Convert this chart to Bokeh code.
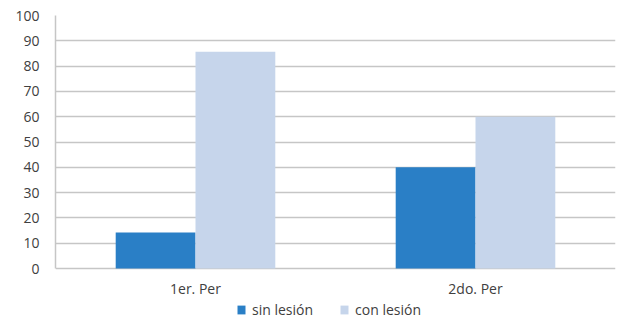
from bokeh.plotting import figure
from bokeh.models import ColumnDataSource, FactorRange, Range1d, Legend, LegendItem, FixedTicker
from bokeh.transform import dodge
from bokeh.embed import file_html
from bokeh.resources import INLINE

categories = ["1er. Per", "2do. Per"]
sin_lesion = [14.3, 40]
con_lesion = [85.7, 60]
series_names = ["sin lesión", "con lesión"]
y_ticks = [0, 10, 20, 30, 40, 50, 60, 70, 80, 90, 100]
colors = ["#2a7fc6", "#c6d5eb"]

src = ColumnDataSource(dict(cat=categories, sin=sin_lesion, con=con_lesion))

# frame extends below zero so the legend can sit inside it
p = figure(x_range=FactorRange(*categories, range_padding=0), y_range=Range1d(-20.1, 100),
           frame_width=560, frame_height=304, output_backend="svg", toolbar_location=None,
           min_border_left=55, min_border_top=15, min_border_right=4, min_border_bottom=0)

bw = 0.285
r1 = p.vbar(x=dodge("cat", -bw / 2, range=p.x_range), top="sin", width=bw, source=src,
            fill_color=colors[0], line_color=None)
r2 = p.vbar(x=dodge("cat", bw / 2, range=p.x_range), top="con", width=bw, source=src,
            fill_color=colors[1], line_color=None)

p.outline_line_color = None
p.background_fill_color = "white"
p.border_fill_color = "white"

p.xgrid.grid_line_color = None
p.ygrid.grid_line_color = "#c6c6c6"
p.ygrid.grid_line_width = 1.5
p.yaxis.ticker = FixedTicker(ticks=y_ticks)
p.yaxis.bounds = (0, 100)

font = "Open Sans"
for ax in (p.xaxis, p.yaxis):
    ax.major_tick_line_color = None
    ax.minor_tick_line_color = None
    ax.major_tick_out = 0
    ax.major_tick_in = 0
    ax.minor_tick_out = 0
    ax.major_label_text_font = font
    ax.major_label_text_font_size = "14px"
    ax.major_label_text_color = "#404040"

p.yaxis.axis_line_color = "#c6c6c6"
p.yaxis.axis_line_width = 1.5
p.yaxis.major_label_standoff = 16
p.xaxis.axis_line_color = None
p.xaxis.fixed_location = 0
p.xaxis.major_label_standoff = 10

legend = Legend(items=[LegendItem(label=series_names[0], renderers=[r1]),
                       LegendItem(label=series_names[1], renderers=[r2])],
                orientation="horizontal", location=(181, 0),
                label_text_font=font, label_text_font_size="14px", label_text_color="#404040",
                glyph_width=10, glyph_height=11, label_standoff=6, spacing=26,
                padding=0, margin=0, border_line_color=None, background_fill_alpha=0)
p.add_layout(legend, "center")

open("out.html", "w").write(file_html(p, INLINE))
